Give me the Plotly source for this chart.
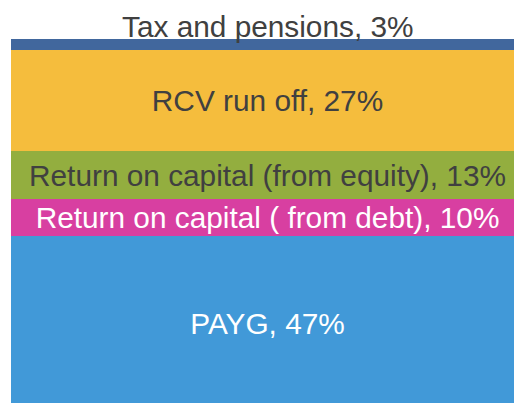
import plotly.graph_objects as go

# stacked from bottom to top
labels = [
    "PAYG",
    "Return on capital ( from debt)",
    "Return on capital (from equity)",
    "RCV run off",
    "Tax and pensions",
]
shares = [47, 10, 13, 27, 3]
colors = ["#4199D8", "#D83FA1", "#93AE3F", "#F5BD3D", "#41679D"]
text_colors = ["#FFFFFF", "#FFFFFF", "#404040", "#404040", "#404040"]

FONT = "Arial, Liberation Sans, sans-serif"
FONT_SIZE = 29.8

fig = go.Figure()

for i, (name, val, col, tcol) in enumerate(zip(labels, shares, colors, text_colors)):
    is_top = i == len(labels) - 1
    fig.add_trace(
        go.Bar(
            x=[0],
            y=[val],
            name=name,
            marker=dict(color=col, line=dict(width=0)),
            text=None if is_top else [f"{name}, {val}%"],
            textposition="inside",
            insidetextanchor="middle",
            constraintext="none",
            textfont=dict(family=FONT, size=FONT_SIZE, color=tcol),
            hoverinfo="skip",
        )
    )

# label for the thin top segment sits above the bar
fig.add_annotation(
    x=0,
    y=sum(shares),
    text=f"{labels[-1]}, {shares[-1]}%",
    showarrow=False,
    yanchor="bottom",
    yshift=-6,
    font=dict(family=FONT, size=FONT_SIZE, color=text_colors[-1]),
)

# the bar runs past the right and bottom edges of the window, as in the source crop
fig.update_layout(
    barmode="stack",
    bargap=0,
    showlegend=False,
    width=524,
    height=403,
    margin=dict(l=11, r=0, t=0, b=0),
    paper_bgcolor="white",
    plot_bgcolor="white",
    xaxis=dict(visible=False, range=[-0.5, 0.5]),
    yaxis=dict(visible=False, range=[2.0, 110.6]),
)

fig.write_html(
    "out.html",
    config={"displayModeBar": False},
    post_script="document.body.style.margin='0';document.body.style.overflow='hidden';",
)
